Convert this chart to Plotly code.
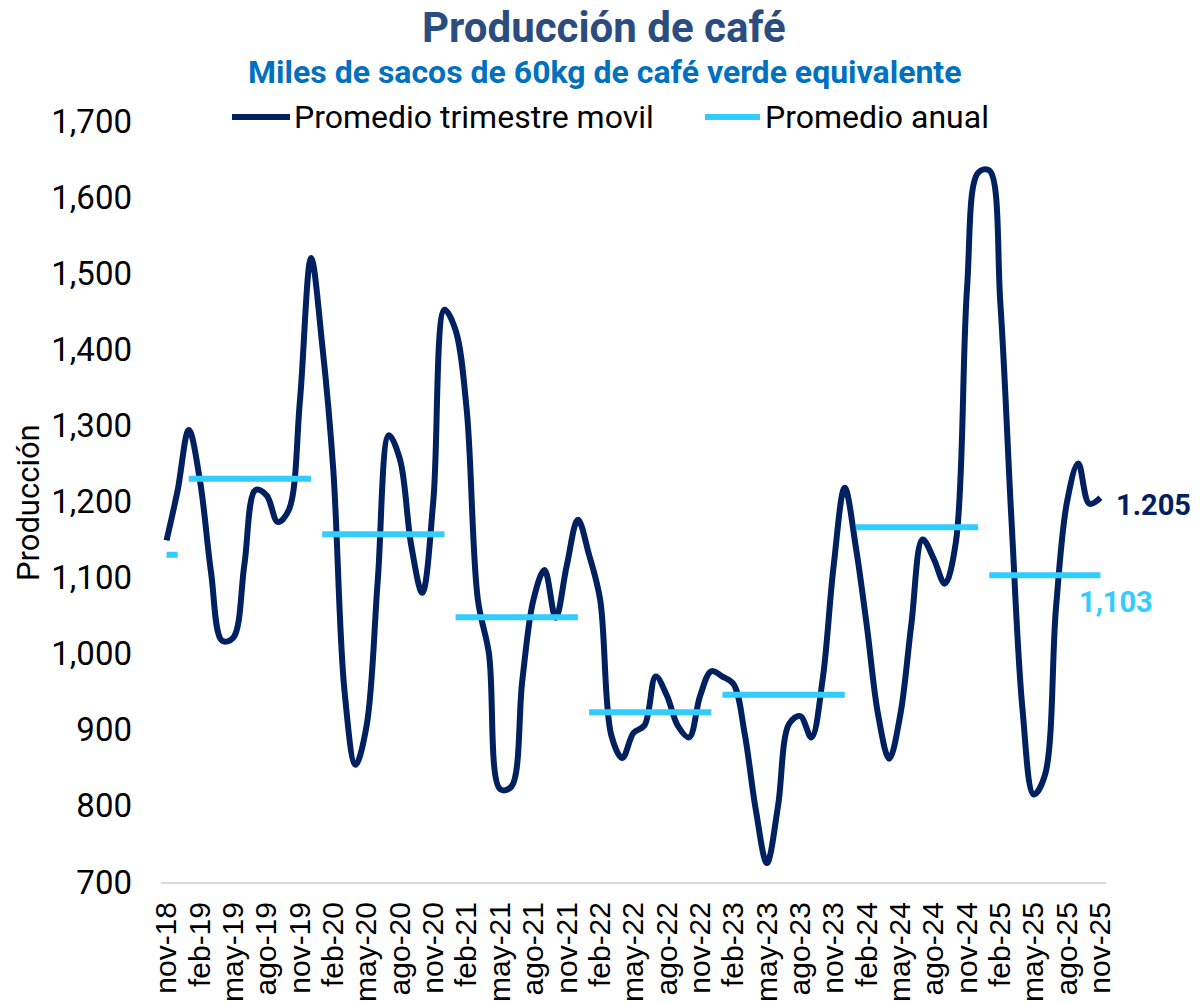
import plotly.graph_objects as go

# meses en español, eje mensual nov-18 .. nov-25
meses = ["ene", "feb", "mar", "abr", "may", "jun", "jul", "ago", "sep", "oct", "nov", "dic"]
fechas = [f"{meses[m]}-{a % 100:02d}" for a in range(2018, 2026) for m in range(12)][10:95]

# promedio trimestre movil (miles de sacos)
produccion = [
    1149, 1215,
    1294, 1228, 1107, 1017, 1021, 1117, 1215, 1208, 1173, 1189, 1333, 1520,
    1406, 1241, 952, 854, 906, 1097, 1287, 1255, 1143, 1080, 1202, 1452,
    1425, 1320, 1071, 1000, 822, 825, 965, 1071, 1110, 1047, 1116, 1176,
    1130, 1071, 893, 863, 896, 906, 970, 945, 905, 890, 945, 977,
    970, 960, 895, 795, 725, 800, 908, 918, 890, 965, 1115, 1218,
    1140, 1035, 920, 862, 920, 1040, 1150, 1125, 1092, 1147, 1480, 1632,
    1635, 1460, 1175, 925, 815, 840, 1060, 1200, 1250, 1197, 1205,
]

anios = [2018, 2019, 2020, 2021, 2022, 2023, 2024, 2025]
promedio_anual = [1130, 1230, 1157, 1048, 923, 946, 1166, 1103]

navy = "#002060"
cian = "#33CCFF"

fig = go.Figure()

fig.add_trace(go.Scatter(x=fechas, y=produccion, mode="lines",
                         name="Promedio trimestre movil",
                         line=dict(color=navy, width=6, shape="spline", smoothing=1),
                         showlegend=False))

for a, p in zip(anios, promedio_anual):
    xs = [f for f in fechas if f.endswith(f"-{a % 100:02d}")]
    fig.add_trace(go.Scatter(x=xs, y=[p] * len(xs), mode="lines",
                             name="Promedio anual", legendgroup="anual",
                             line=dict(color=cian, width=6),
                             showlegend=False))

# leyenda dibujada a mano (muestras largas como en el original)
ly = 1.0053
fig.add_shape(type="line", xref="paper", yref="paper", x0=0.0751, x1=0.1365, y0=ly, y1=ly,
              line=dict(color=navy, width=6))
fig.add_shape(type="line", xref="paper", yref="paper", x0=0.5757, x1=0.6339, y0=ly, y1=ly,
              line=dict(color=cian, width=6))
fig.add_annotation(text="Promedio trimestre movil", xref="paper", yref="paper",
                   x=0.1386, y=ly, xanchor="left", yanchor="middle", showarrow=False,
                   font=dict(family="Roboto", size=32, color="black"))
fig.add_annotation(text="Promedio anual", xref="paper", yref="paper",
                   x=0.637, y=ly, xanchor="left", yanchor="middle", showarrow=False,
                   font=dict(family="Roboto", size=32, color="black"))

# titulo y subtitulo
fig.add_annotation(text="<b>Producción de café</b>", xref="paper", yref="paper",
                   x=0.4688, y=1.1235, xanchor="center", yanchor="middle", showarrow=False,
                   font=dict(family="Roboto", size=42, color="#2B4C7E"))
fig.add_annotation(text="<b>Miles de sacos de 60kg de café verde equivalente</b>",
                   xref="paper", yref="paper", x=0.4688, y=1.0644,
                   xanchor="center", yanchor="middle", showarrow=False,
                   font=dict(family="Roboto", size=32, color="#0070C0"))

# titulo del eje y
fig.add_annotation(text="Producción", xref="paper", yref="paper",
                   x=-0.1407, y=0.498, xanchor="center", yanchor="middle",
                   textangle=-90, showarrow=False,
                   font=dict(family="Roboto", size=31, color="black"))

# etiquetas de valor final
fig.add_annotation(text="<b>1.205</b>", x=fechas[-1], y=produccion[-1],
                   xanchor="left", yanchor="middle", xshift=14, yshift=-7, showarrow=False,
                   font=dict(family="Roboto", size=29, color=navy))
fig.add_annotation(text="<b>1,103</b>", x=fechas[-1], y=promedio_anual[-1],
                   xanchor="left", yanchor="middle", xshift=-23, yshift=-27, showarrow=False,
                   font=dict(family="Roboto", size=29, color=cian))

fig.update_layout(
    width=1192, height=996,
    margin=dict(l=153, r=94, t=113, b=122, autoexpand=False),
    plot_bgcolor="white", paper_bgcolor="white",
    font=dict(family="Roboto", color="black"),
)
fig.update_xaxes(type="category", range=[-0.5, len(fechas) - 0.5], automargin=False,
                 tickmode="array", tickvals=fechas[::3], ticktext=fechas[::3],
                 tickangle=-90, tickfont=dict(family="Liberation Sans", size=30, color="black"),
                 showline=True, linecolor="#D9D9D9", linewidth=2,
                 showgrid=False, ticks="", ticklabelstandoff=6)
fig.update_yaxes(range=[700, 1700], dtick=100, tickformat=",", automargin=False,
                 tickfont=dict(family="Roboto", size=33, color="black"),
                 showgrid=False, zeroline=False, showline=False, ticks="",
                 ticklabelstandoff=28)

fig.write_html("out.html")
